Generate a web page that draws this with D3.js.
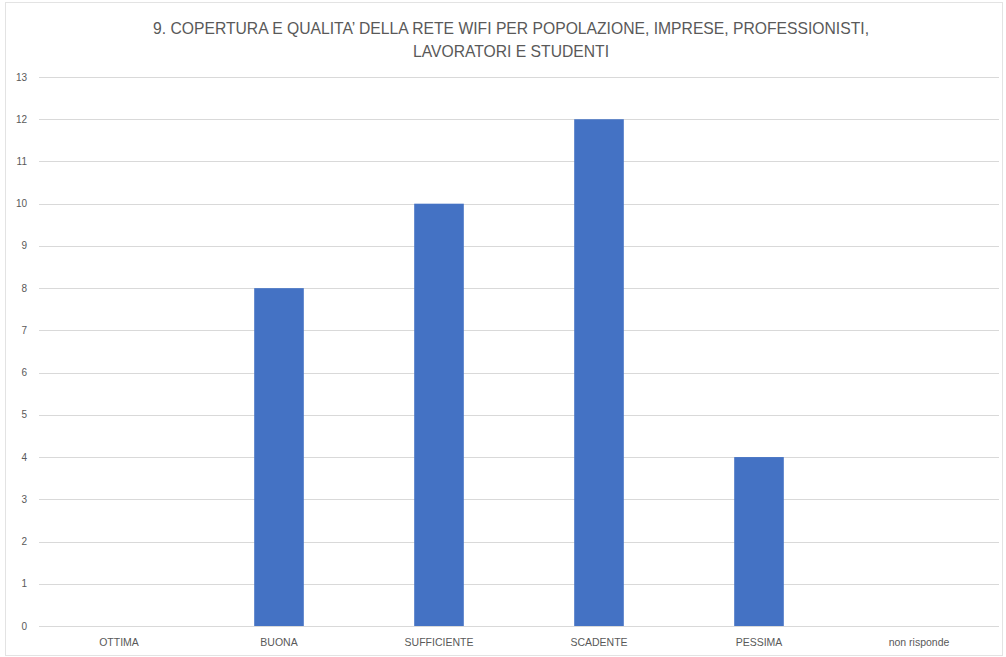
<!DOCTYPE html>
<html>
<head>
<meta charset="utf-8">
<script src="https://cdn.jsdelivr.net/npm/d3@7"></script>
<style>
  body { margin: 0; background: #fff; }
  svg { display: block; }
</style>
</head>
<body>
<div id="chart"></div>
<script>
'use strict'

const categories = ['OTTIMA', 'BUONA', 'SUFFICIENTE', 'SCADENTE', 'PESSIMA', 'non risponde'];
const values = [0, 8, 10, 12, 4, 0];
const yTicks = d3.range(0, 14);
const titleLines = [
  '9. COPERTURA E QUALITA\u2019 DELLA RETE WIFI PER POPOLAZIONE, IMPRESE, PROFESSIONISTI,',
  'LAVORATORI E STUDENTI'
];

const width = 1006;
const height = 657;
const margin = { top: 77, right: 7, bottom: 31, left: 39 };

const svg = d3.select('#chart').append('svg')
  .attr('width', width)
  .attr('height', height);

// chart frame
svg.append('rect')
  .attr('x', 5.5).attr('y', 2.5)
  .attr('width', width - 9).attr('height', height - 4)
  .attr('fill', '#fff')
  .attr('stroke', '#e3e3e3');

const x = d3.scaleBand()
  .domain(categories)
  .range([margin.left, width - margin.right])
  .paddingInner(0.69)
  .paddingOuter(0.345);

const y = d3.scaleLinear()
  .domain([0, 13])
  .range([height - margin.bottom, margin.top]);

// gridlines
svg.append('g')
  .selectAll('line')
  .data(yTicks)
  .join('line')
  .attr('x1', margin.left)
  .attr('x2', width - margin.right)
  .attr('y1', d => Math.round(y(d)) + 0.5)
  .attr('y2', d => Math.round(y(d)) + 0.5)
  .attr('stroke', '#d9d9d9')
  .attr('stroke-width', 1);

// y labels
svg.append('g')
  .selectAll('text')
  .data(yTicks)
  .join('text')
  .attr('x', 27)
  .attr('y', d => y(d))
  .attr('text-anchor', 'end')
  .attr('dominant-baseline', 'central')
  .attr('font-family', 'Liberation Sans, Arial, sans-serif')
  .attr('font-size', 10)
  .attr('fill', '#595959')
  .text(d => d);

// bars
svg.append('g')
  .selectAll('rect')
  .data(values)
  .join('rect')
  .attr('x', (d, i) => x(categories[i]))
  .attr('y', d => y(d))
  .attr('width', x.bandwidth())
  .attr('height', d => y(0) - y(d))
  .attr('fill', '#4472c4');

// x labels
svg.append('g')
  .selectAll('text')
  .data(categories)
  .join('text')
  .attr('x', d => x(d) + x.bandwidth() / 2)
  .attr('y', 642)
  .attr('text-anchor', 'middle')
  .attr('dominant-baseline', 'central')
  .attr('font-family', 'Liberation Sans, Arial, sans-serif')
  .attr('font-size', 10.5)
  .attr('fill', '#595959')
  .text(d => d);

// title
svg.append('g')
  .selectAll('text')
  .data(titleLines)
  .join('text')
  .attr('x', 511)
  .attr('y', (d, i) => 28 + i * 23)
  .attr('text-anchor', 'middle')
  .attr('dominant-baseline', 'central')
  .attr('font-family', 'Liberation Sans Narrow, Arial Narrow, sans-serif')
  .attr('font-size', 15.7)
  .attr('fill', '#595959')
  .text(d => d);
</script>
</body>
</html>
